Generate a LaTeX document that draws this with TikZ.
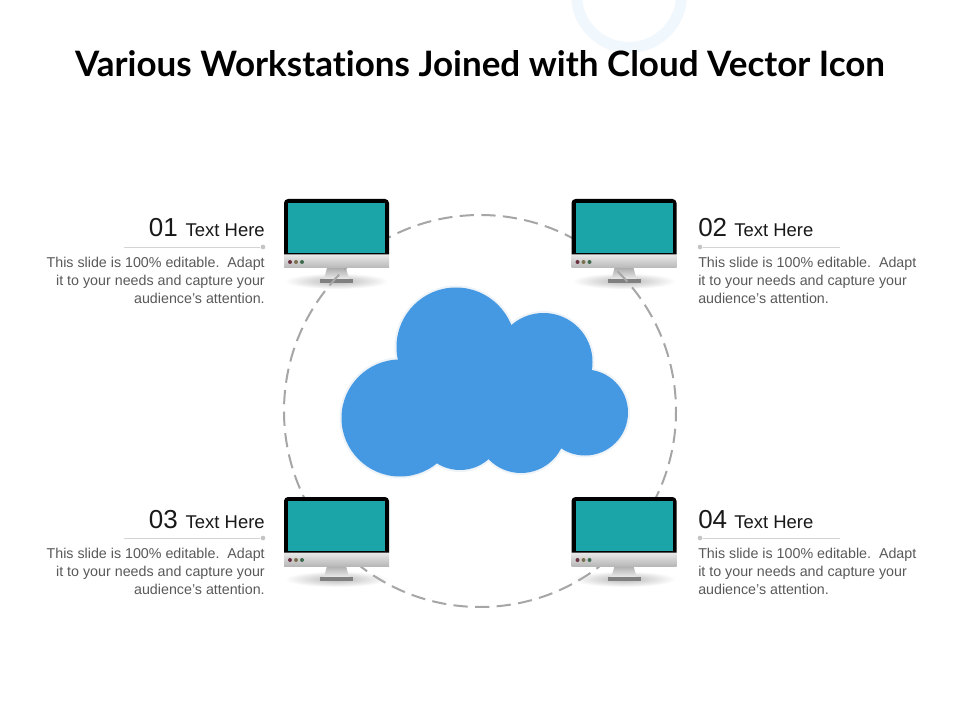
\documentclass[tikz,border=0pt]{standalone}
\usepackage{fontspec}
\setmainfont{Liberation Sans}
\newfontfamily\titlefont{Lato}[BoldFont={Lato Bold},Ligatures=NoCommon]
\definecolor{ringblue}{HTML}{F0F7FD}
\definecolor{dashgray}{HTML}{A6A6A6}
\definecolor{teal1}{HTML}{1CA5A8}
\definecolor{cloudblue}{HTML}{4599E3}
\definecolor{cloudhalo}{HTML}{EEF3F8}
\definecolor{bodygray}{HTML}{595959}
\definecolor{rulegray}{HTML}{D4D4D4}
\definecolor{dotgray}{HTML}{C4C4C4}
\definecolor{dotred}{HTML}{6B3040}
\definecolor{dotolive}{HTML}{7A7050}
\definecolor{dotgreen}{HTML}{3F6B50}
\tikzset{
  titletext/.style={inner sep=0pt,font=\titlefont\fontsize{26.25pt}{30pt}\selectfont\bfseries,text=black},
  numtext/.style={inner sep=0pt,font=\fontsize{19.5pt}{24pt}\selectfont,text=black!90},
  headtext/.style={inner sep=0pt,font=\fontsize{13.85pt}{16pt}\selectfont,text=black!90},
  bodytext/.style={inner sep=0pt,font=\fontsize{10.7pt}{13.5pt}\selectfont,text=bodygray},
  rulestyle/.style={draw=rulegray,line width=0.6pt},
  dotstyle/.style={fill=dotgray,draw=none},
  pics/monitorbase/.style={code={
    \shade[inner color=black!28,outer color=white] (52.5,82) ellipse (52 and 8);
    \shade[top color=black!32,bottom color=black!8] (43,69) -- (62,69) -- (65,80) -- (40,80) -- cycle;
    \fill[black!50] (36,80) rectangle (69,84);
  }},
  pics/monitorbody/.style={code={
    \shade[top color=black!8,bottom color=black!28] (0,55) rectangle (105,69);
    \fill[black] (0,55.5) [rounded corners=3pt] -- (0,0) -- (105,0) -- (105,10) [sharp corners] -- (105,55.5) -- cycle;
    \fill[teal1] (4,4) rectangle (101,54);
    \fill[dotred] (6,63) circle (2);
    \fill[dotolive] (12,63) circle (2);
    \fill[dotgreen] (18,63) circle (2);
  }}
}
\begin{document}
\begin{tikzpicture}[x=0.75pt,y=-0.75pt]
\useasboundingbox (0,0) rectangle (960,720);
\fill[white] (0,0) rectangle (960,720);
\begin{scope}
  \clip (0,0) rectangle (960,720);
  \draw[ringblue,line width=8.25pt] (629,-5) circle (52.5);
\end{scope}
\node[titletext,anchor=base] (title) at (480,77) {Various Workstations Joined with Cloud Vector Icon};

% monitor stands and shadows lie under the dashed ring
\pic (s1) at (284,199) {monitorbase};
\pic (s2) at (571.5,199) {monitorbase};
\pic (s3) at (284,497) {monitorbase};
\pic (s4) at (571.5,497) {monitorbase};

\draw[dashgray,line width=1.5pt,dash pattern=on 10.7pt off 5.5pt,dash phase=2.85pt] (480,411) circle (196);

% cloud
\begin{scope}
  \foreach \cx/\cy/\r in {400/418/58.5,456/347/59.5,543.5/362/49,585/412.5/43,460/427/43,521/428/45}
    \draw[cloudhalo,line width=3pt] (\cx,\cy) circle (\r);
  \foreach \cx/\cy/\r in {400/418/58.5,456/347/59.5,543.5/362/49,585/412.5/43,460/427/43,521/428/45}
    \fill[cloudblue] (\cx,\cy) circle (\r);
  \fill[cloudblue] (400,400) -- (456,347) -- (543,362) -- (585,412) -- (520,435) -- (458,437) -- cycle;
\end{scope}

% monitors
\pic (m1) at (284,199) {monitorbody};
\pic (m2) at (571.5,199) {monitorbody};
\pic (m3) at (284,497) {monitorbody};
\pic (m4) at (571.5,497) {monitorbody};

% item 01
\node[headtext,anchor=base east] (h1) at (265,237) {Text Here};
\node[numtext,anchor=base east] (n1) at (178,237) {01};
\coordinate (r1a) at (124,247);
\node[dotstyle,circle,minimum size=3.5pt,inner sep=0pt] (d1) at (263,247) {};
\draw[rulestyle] (r1a) -- (d1);
\node[bodytext,anchor=north east,align=right] (b1) at (265,256.5) {This slide is 100\% editable.\ \ Adapt\\it to your needs and capture your\\audience’s attention.};

% item 02
\node[numtext,anchor=base west] (n2) at (698,237) {02};
\node[headtext,anchor=base west] (h2) at (734,237) {Text Here};
\coordinate (r2a) at (840,247);
\node[dotstyle,circle,minimum size=3.5pt,inner sep=0pt] (d2) at (700,247) {};
\draw[rulestyle] (d2) -- (r2a);
\node[bodytext,anchor=north west,align=left] (b2) at (698,256.5) {This slide is 100\% editable.\ \ Adapt\\it to your needs and capture your\\audience’s attention.};

% item 03
\node[headtext,anchor=base east] (h3) at (265,528) {Text Here};
\node[numtext,anchor=base east] (n3) at (178,528) {03};
\coordinate (r3a) at (124,538);
\node[dotstyle,circle,minimum size=3.5pt,inner sep=0pt] (d3) at (263,538) {};
\draw[rulestyle] (r3a) -- (d3);
\node[bodytext,anchor=north east,align=right] (b3) at (265,547.5) {This slide is 100\% editable.\ \ Adapt\\it to your needs and capture your\\audience’s attention.};

% item 04
\node[numtext,anchor=base west] (n4) at (698,528) {04};
\node[headtext,anchor=base west] (h4) at (734,528) {Text Here};
\coordinate (r4a) at (840,538);
\node[dotstyle,circle,minimum size=3.5pt,inner sep=0pt] (d4) at (700,538) {};
\draw[rulestyle] (d4) -- (r4a);
\node[bodytext,anchor=north west,align=left] (b4) at (698,547.5) {This slide is 100\% editable.\ \ Adapt\\it to your needs and capture your\\audience’s attention.};
\end{tikzpicture}
\end{document}
